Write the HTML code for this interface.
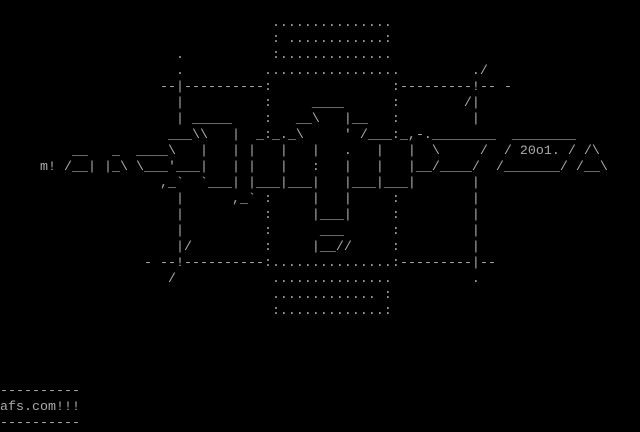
<!DOCTYPE html>
<html><head><meta charset="utf-8"><style>
html,body{margin:0;padding:0;background:#000;width:640px;height:432px;overflow:hidden}
pre{margin:0;font-family:"Liberation Mono","DejaVu Sans Mono",monospace;font-size:13.333px;line-height:16px;color:#aaaaaa;letter-spacing:0}
</style></head><body><pre>

                                  ...............
                                  : ............:
                      .           :..............
                      .          .................         ./
                    --|----------:               :---------!-- -
                      |          :     ____      :        /|
                      | _____    :   __\   |__   :         |
                     ___\\   |  _:_._\     ' /___:_,-.________  ________
         __   _  ____\   |   | |   |   |   .   |   |  \     /  / 20o1. / /\
     m! /__| |_\ \___'___|   | |   |   :   |   |   |__/____/  /_______/ /__\
                    ,_`  `___| |___|___|   |___|___|       |
                      |      ,_` :     |   |     :         |
                      |          :     |___|     :         |
                      |          :      ___      :         |
                      |/         :     |__//     :         |
                  - --!----------:...............:---------|--
                     /            ...............          .
                                  ............. :
                                  :.............:




----------
afs.com!!!
----------</pre></body></html>
